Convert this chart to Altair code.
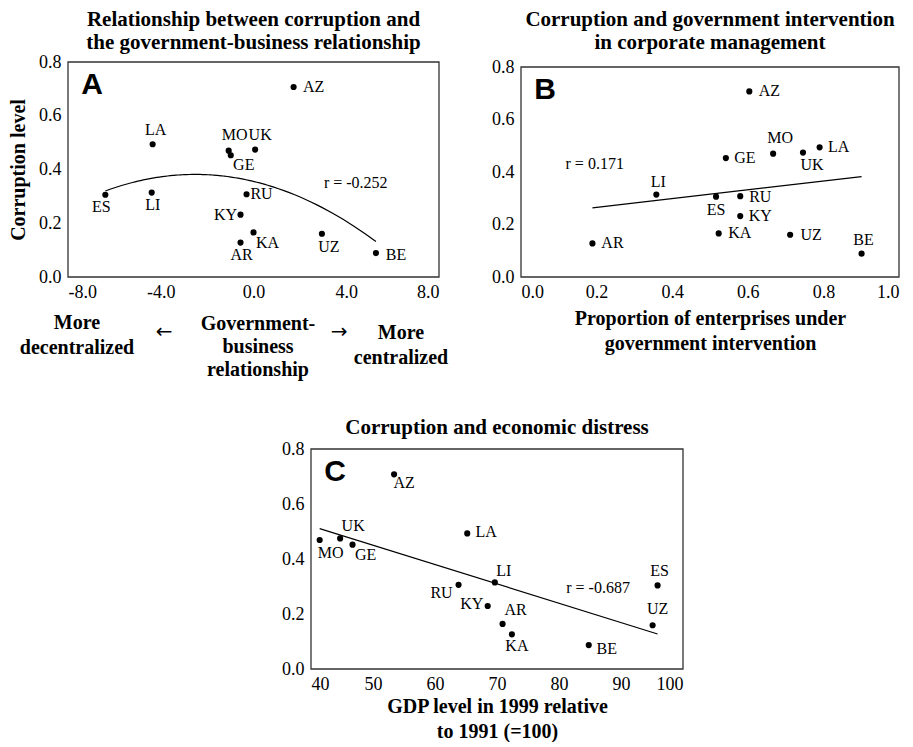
import altair as alt
import pandas as pd

# ---------------- data ----------------
countries = ["AZ", "LA", "MO", "GE", "UK", "ES", "LI", "RU", "KY", "KA", "AR", "UZ", "BE"]
corruption = [0.707, 0.494, 0.470, 0.453, 0.474, 0.306, 0.314, 0.308, 0.232, 0.166, 0.128, 0.161, 0.089]
gov_business = [1.73, -4.35, -1.07, -0.98, 0.07, -6.39, -4.39, -0.30, -0.56, 0.00, -0.56, 2.95, 5.28]
intervention = [0.604, 0.790, 0.667, 0.542, 0.746, 0.516, 0.358, 0.580, 0.580, 0.523, 0.189, 0.712, 0.901]
gdp_1999 = [53.4, 65.2, 41.4, 46.7, 44.7, 95.9, 69.65, 63.8, 68.5, 72.4, 70.9, 95.1, 84.8]
corruption_panel_c = [0.708, 0.493, 0.469, 0.452, 0.475, 0.304, 0.315, 0.306, 0.229, 0.126, 0.164, 0.159, 0.087]

y_ticks = [0.0, 0.2, 0.4, 0.6, 0.8]
x_ticks_a = [-8.0, -4.0, 0.0, 4.0, 8.0]
x_ticks_b = [0.0, 0.2, 0.4, 0.6, 0.8, 1.0]
x_ticks_c = [40, 50, 60, 70, 80, 90, 100]

r_text = ["r = -0.252", "r = 0.171", "r = -0.687"]
r_x = [4.41, 0.195, 86.3]
r_y = [0.35, 0.432, 0.296]

# ---------------- style: label offsets (px) ----------------
OFF_A = {"AZ": (20, 0), "LA": (3, -14), "MO": (6, -16), "UK": (5, -15), "GE": (13, 10),
         "ES": (-4, 12), "LI": (1, 12), "RU": (15, 0), "KY": (-15, 0), "KA": (14, 11),
         "AR": (1, 12), "UZ": (7, 13), "BE": (20, 2)}
OFF_B = {"AZ": (20, 0), "MO": (7, -16), "UK": (9, 12), "LA": (19, 0), "GE": (19, 0),
         "LI": (2, -13), "ES": (0, 13), "RU": (20, 1), "KY": (20, 0), "KA": (21, 0),
         "UZ": (21, 0), "AR": (20, 0), "BE": (2, -14)}
OFF_C = {"AZ": (10, 9), "UK": (13, -12), "MO": (11, 13), "GE": (13, 10), "LA": (19, -1),
         "LI": (9, -11), "RU": (-17, 8), "KY": (-16, -2), "AR": (13, -14), "KA": (5, 12),
         "BE": (18, 4), "ES": (2, -14), "UZ": (5, -16)}

SERIF = "Liberation Serif"
SANS = "Liberation Sans"
FRAME = "#333333"
MINUS_FIX = "replace(format(datum.value, '.1f'), '\u2212', '-')"


def one_row():
    return alt.Chart(pd.DataFrame({"k": [0]}))


def make_panel(xs, ys, xdomain, xticks, xfmt, xtitle, ytitle, width, height, offsets,
               ridx, letter, title_lines, title_offset, order, extra=None,
               xtitle_pad=None, top_inset=0):
    df = pd.DataFrame({"country": countries, "x": xs, "y": ys})
    xaxis_kw = dict(values=xticks, title=xtitle)
    if xfmt == "minus":
        xaxis_kw["labelExpr"] = MINUS_FIX
    else:
        xaxis_kw["format"] = xfmt
    if xtitle_pad is not None:
        xaxis_kw["titlePadding"] = xtitle_pad
    xenc = alt.X("x:Q", scale=alt.Scale(domain=xdomain, nice=False, zero=False),
                 axis=alt.Axis(**xaxis_kw))
    yscale = alt.Scale(domain=[0, 0.8], nice=False, range=[height, top_inset])
    yenc = alt.Y("y:Q", scale=yscale,
                 axis=alt.Axis(values=y_ticks, format=".1f", title=ytitle))
    base = alt.Chart(df)
    if order == 2:
        reg = base.transform_regression("x", "y", method="poly", order=2)
    else:
        reg = base.transform_regression("x", "y")
    reg = reg.mark_line(color="black", strokeWidth=1.2).encode(x=xenc, y=yenc)
    pts = base.mark_circle(size=38, color="black", opacity=1).encode(x=xenc, y=yenc)
    labels = [
        base.transform_filter(alt.datum.country == c)
        .mark_text(dx=dx, dy=dy, font=SERIF, fontSize=16, align="center", baseline="middle", color="black")
        .encode(x=xenc, y=yenc, text="country:N")
        for c, (dx, dy) in offsets.items()
    ]
    ann = alt.Chart(pd.DataFrame({"x": [r_x[ridx]], "y": [r_y[ridx]], "t": [r_text[ridx]]})).mark_text(
        font=SERIF, fontSize=16, align="center", baseline="middle", color="black"
    ).encode(x=xenc, y=yenc, text="t:N")
    let = one_row().mark_text(
        font=SANS, fontSize=30, fontWeight="bold", align="center", baseline="middle", color="black"
    ).encode(x=alt.value(24), y=alt.value(23 + top_inset), text=alt.value(letter))
    frame = one_row().mark_rect(fillOpacity=0, stroke=FRAME, strokeWidth=1.3).encode(
        x=alt.value(0), x2=alt.value(width), y=alt.value(top_inset), y2=alt.value(height)
    )
    layers = [frame, reg, pts] + labels + [ann, let] + (extra or [])
    return alt.layer(*layers).properties(
        width=width, height=height,
        title=alt.TitleParams(title_lines, offset=title_offset, font=SERIF, fontSize=21,
                              fontWeight="bold", lineHeight=23, anchor="middle", frame="group",
                              color="black"),
    )


def note(x, y, lines, size=20, weight="bold", lh=25, baseline="alphabetic", font=SERIF):
    return one_row().mark_text(
        font=font, fontSize=size, fontWeight=weight, align="center", baseline=baseline,
        lineHeight=lh, color="black"
    ).encode(x=alt.value(x), y=alt.value(y), text=alt.value(lines))


extra_a = [
    note(9, 267, ["More", "decentralized"]),
    note(96, 270, "←", size=20, weight="normal", baseline="middle", font="DejaVu Sans"),
    note(190, 267.5, ["Government-", "business", "relationship"], lh=23),
    note(271, 270, "→", size=20, weight="normal", baseline="middle", font="DejaVu Sans"),
    note(333, 277, ["More", "centralized"]),
]

panel_a = make_panel(gov_business, corruption, [-8, 8], x_ticks_a, "minus", None, "Corruption level",
                     371, 215, OFF_A, 0, "A",
                     ["Relationship between corruption and", "the government-business relationship"],
                     0, 2, extra_a)
panel_b = make_panel(intervention, corruption, [0, 1], x_ticks_b, ".1f",
                     ["Proportion of enterprises under", "government intervention"], None,
                     378, 215, OFF_B, 1, "B",
                     ["Corruption and government intervention", "in corporate management"],
                     5, 1, xtitle_pad=7, top_inset=5)
panel_c = make_panel(gdp_1999, corruption_panel_c, [40, 100], x_ticks_c, "d",
                     ["GDP level in 1999 relative", "to 1991 (=100)"], None,
                     372, 220, OFF_C, 2, "C", "Corruption and economic distress", 2.5, 1,
                     xtitle_pad=3)

spacer = one_row().mark_text(opacity=0).encode(
    x=alt.value(0), y=alt.value(0), text=alt.value(" ")
).properties(width=212, height=10)

top = alt.hconcat(panel_a, panel_b, spacing=42)
bottom = alt.hconcat(spacer, panel_c, spacing=0)

chart = alt.vconcat(top, bottom, spacing=36).properties(
    padding={"left": 0, "top": 0, "right": 0, "bottom": 0}
).configure_view(stroke="transparent").configure_axis(
    labelFont=SERIF, labelFontSize=18, labelColor="black", ticks=False, tickSize=0,
    domain=False, grid=False, titleFont=SERIF, titleFontSize=20, titleFontWeight="bold",
    titleColor="black", titleLineHeight=25
).configure_axisX(labelPadding=6, titlePadding=9).configure_axisY(labelPadding=7, titlePadding=10)

chart.save("out.html", embed_options={"renderer": "svg", "actions": False})
